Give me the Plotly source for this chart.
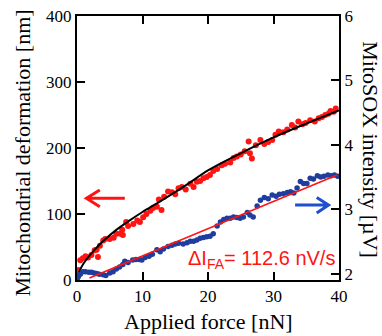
import plotly.graph_objects as go

# ---- data ----
force_def = [0.0, 0.1, 0.2, 0.5, 0.9, 1.3, 1.7, 2.2, 2.7, 3.0, 3.2, 3.5, 4.0, 4.3, 5.0, 5.6,
             6.0, 6.6, 6.9, 7.0, 7.5, 7.8, 8.6, 9.2, 9.6, 10.1, 10.6, 11.2, 11.6, 12.2, 12.5,
             12.9, 13.3, 13.9, 14.5, 15.0, 15.5, 16.0, 16.6, 17.3, 17.8, 18.3, 18.8, 19.3,
             19.8, 20.3, 20.8, 21.4, 22.1, 22.6, 23.4, 23.9, 24.4, 25.0, 25.6, 26.2, 26.4,
             26.7, 27.3, 28.0, 28.6, 29.2, 29.8, 30.3, 30.8, 31.5, 32.1, 32.8, 33.3, 33.8,
             34.4, 34.9, 35.6, 36.3, 36.9, 37.4, 37.9, 38.4, 38.7, 39.2, 39.5]
deformation = [2, 8, 15, 30, 33, 36, 34, 38, 45, 46, 35, 52, 60, 62, 62, 64,
               70, 70, 76, 68, 88, 82, 85, 90, 88, 95, 100, 105, 109, 111, 122,
               106, 126, 134, 133, 130, 139, 141, 137, 146, 141, 149, 150, 154,
               156, 159, 165, 168, 174, 176, 178, 185, 187, 190, 195, 210, 192,
               184, 204, 212, 206, 209, 212, 220, 225, 224, 228, 235, 231, 240,
               236, 238, 242, 240, 245, 247, 250, 252, 256, 255, 260]

fit_def_x = [0, 0.5, 1, 2, 3, 4, 6, 8, 10, 12, 14, 17, 20, 25, 30, 35, 40]
fit_def_y = [0, 16, 25, 38, 49, 59, 76, 90, 103, 115, 127, 146, 166, 192, 216, 237, 257]

force_sox = [0.0, 0.2, 0.5, 0.9, 1.3, 1.8, 2.2, 2.6, 3.0, 3.4, 4.0, 4.4, 5.0, 5.5, 6.0, 6.5,
             7.0, 7.3, 7.8, 8.5, 9.0, 9.5, 9.9, 10.4, 11.0, 11.5, 12.2, 12.7, 13.2, 13.9,
             14.5, 15.0, 15.5, 16.2, 16.8, 17.3, 17.8, 18.3, 18.8, 19.3, 19.8, 20.3, 20.8,
             21.4, 21.9, 22.4, 22.9, 23.4, 23.9, 24.4, 24.9, 25.4, 26.0, 26.4, 26.9, 27.5,
             28.0, 28.6, 29.2, 29.8, 30.4, 30.9, 31.5, 32.1, 32.6, 33.1, 33.6, 34.1, 34.6,
             35.1, 35.6, 36.1, 36.7, 37.2, 37.7, 38.3, 38.8, 39.3, 39.8]
mitosox = [1.92, 1.95, 1.99, 2.03, 2.03, 2.02, 2.02, 2.01, 2.00, 1.99, 1.98, 1.97, 2.01, 2.03,
           2.07, 2.10, 2.14, 2.19, 2.17, 2.21, 2.22, 2.22, 2.21, 2.25, 2.27, 2.30, 2.37, 2.34,
           2.38, 2.42, 2.44, 2.46, 2.47, 2.46, 2.48, 2.50, 2.50, 2.52, 2.55, 2.56, 2.57, 2.58,
           2.62, 2.74, 2.80, 2.84, 2.86, 2.86, 2.88, 2.87, 2.86, 2.88, 2.95, 2.91, 2.88, 3.05,
           3.14, 3.18, 3.16, 3.22, 3.20, 3.23, 3.24, 3.26, 3.27, 3.25, 3.33, 3.43, 3.40, 3.40,
           3.48, 3.47, 3.52, 3.50, 3.51, 3.53, 3.52, 3.53, 3.51]

fit_sox_x = [1.9, 39.7]
fit_sox_y = [1.93, 3.53]

x_ticks = [0, 10, 20, 30, 40]
y_ticks = [0, 100, 200, 300, 400]
y2_ticks = [2, 3, 4, 5, 6]

RED = "#ff1414"
BLUE = "#1f3d9c"
SERIF = "Liberation Serif, Times New Roman, serif"
SANS = "Liberation Sans, Arial, sans-serif"

fig = go.Figure()
fig.add_trace(go.Scatter(x=force_sox, y=mitosox, mode="markers", yaxis="y2",
                         marker=dict(color=BLUE, size=5.5), showlegend=False))
fig.add_trace(go.Scatter(x=fit_sox_x, y=fit_sox_y, mode="lines", yaxis="y2",
                         line=dict(color=RED, width=1.6), showlegend=False))
fig.add_trace(go.Scatter(x=force_def, y=deformation, mode="markers",
                         marker=dict(color=RED, size=6), showlegend=False))
fig.add_trace(go.Scatter(x=fit_def_x, y=fit_def_y, mode="lines",
                         line=dict(color="black", width=2, shape="spline"), showlegend=False))

axis_common = dict(showgrid=False, zeroline=False, showline=True, linecolor="black",
                   linewidth=2, ticks="inside", ticklen=8, tickwidth=2, tickcolor="black",
                   tickfont=dict(family=SERIF, size=17, color="black"))

fig.update_layout(
    width=382, height=336,
    margin=dict(l=77, r=43, t=16, b=56, autoexpand=False),
    paper_bgcolor="white", plot_bgcolor="white",
    hovermode=False,
    xaxis=dict(range=[0, 40], tickvals=x_ticks, mirror="ticks", **axis_common),
    yaxis=dict(range=[0, 400], tickvals=y_ticks, **axis_common),
    yaxis2=dict(range=[1.9, 6], tickvals=y2_ticks, overlaying="y", side="right",
                **axis_common),
    annotations=[
        dict(text="Applied force [nN]", xref="paper", yref="paper", x=0.5015, y=-0.159,
             xanchor="center", yanchor="middle", showarrow=False,
             font=dict(family=SERIF, size=22, color="black")),
        dict(text="Mitochondrial deformation [nm]", xref="paper", yref="paper",
             x=-0.206, y=0.479, textangle=-90, xanchor="center", yanchor="middle",
             showarrow=False, font=dict(family=SERIF, size=22, color="black")),
        dict(text="MitoSOX intensity [µV]", xref="paper", yref="paper",
             x=1.122, y=0.492, textangle=90, xanchor="center", yanchor="middle",
             showarrow=False, font=dict(family=SERIF, size=22, color="black")),
        dict(text="ΔI<sub>FA</sub>= 112.6 nV/s", xref="paper", yref="paper",
             x=0.416, y=0.0758, xanchor="left", yanchor="middle", showarrow=False,
             font=dict(family=SANS, size=20, color=RED)),
    ],
    shapes=[
        dict(type="path", xref="x", yref="y", path="M 7.3,123.8 L 1.44,123.8 M 3.48,136.4 L 1.44,123.8 L 3.48,111.1",
             line=dict(color=RED, width=3)),
        dict(type="path", xref="x", yref="y2", path="M 33.3,3.065 L 38.4,3.065 M 36.6,3.18 L 38.4,3.065 L 36.6,2.94",
             line=dict(color="#1e4fd0", width=3)),
    ],
)

fig.write_html("out.html", config={"displayModeBar": False, "staticPlot": True},
               post_script="document.body.style.margin='0px';document.body.style.overflow='hidden';")
